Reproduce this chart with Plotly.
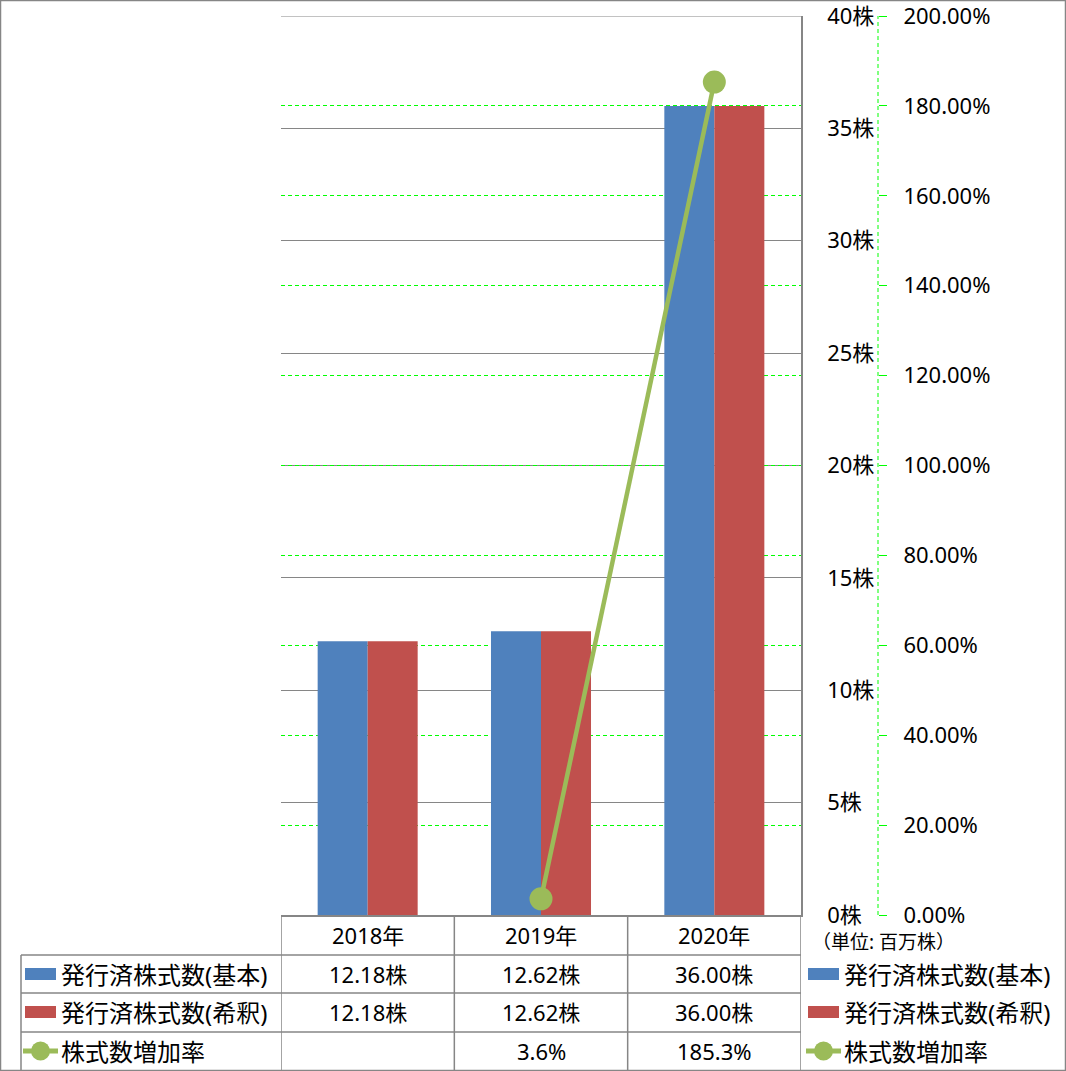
import plotly.graph_objects as go

# ---- data ----
years = ["2018年", "2019年", "2020年"]
basic_shares = [12.18, 12.62, 36.00]
diluted_shares = [12.18, 12.62, 36.00]
growth_rate = [None, 3.6, 185.3]
series_names = ["発行済株式数(基本)", "発行済株式数(希釈)", "株式数増加率"]
unit_note = "（単位: 百万株）"
share_ticks = [0, 5, 10, 15, 20, 25, 30, 35, 40]
rate_ticks = [0, 20, 40, 60, 80, 100, 120, 140, 160, 180, 200]

BLUE = "#4F81BD"
RED = "#C0504D"
GREEN = "#9BBB59"
GRID = "#868686"
LIME = "#00FF00"
FONT = "Noto Sans, Noto Sans CJK JP"

W, H = 1066, 1071


def px(x):
    return x / W


def py(y):
    return 1 - y / H


fig = go.Figure()
fig.add_trace(go.Bar(x=years, y=basic_shares, name=series_names[0],
                     marker=dict(color=BLUE, line=dict(width=0))))
fig.add_trace(go.Bar(x=years, y=diluted_shares, name=series_names[1],
                     marker=dict(color=RED, line=dict(width=0))))
fig.add_trace(go.Scatter(x=years, y=growth_rate, name=series_names[2], yaxis="y2",
                         mode="lines+markers", line=dict(color=GREEN, width=4.5),
                         marker=dict(size=23, color=GREEN), connectgaps=False))

shapes = []
annotations = []

# outer border
shapes.append(dict(type="rect", xref="paper", yref="paper", x0=px(0.5), x1=px(W - 0.5),
                   y0=py(0.5), y1=py(H - 0.5), line=dict(color=GRID, width=1.5)))

# secondary axis dashed line
shapes.append(dict(type="line", xref="paper", yref="y2", x0=px(878), x1=px(878),
                   y0=rate_ticks[0], y1=rate_ticks[-1], line=dict(color=LIME, width=1, dash="4px,3px")))

# top primary gridline (kept explicit so it is always drawn)
shapes.append(dict(type="line", xref="x domain", yref="y", x0=0, x1=1,
                   y0=share_ticks[-1], y1=share_ticks[-1], line=dict(color=GRID, width=1), layer="below"))

# table structure
row_lines = [955, 993, 1032]
for yy in row_lines:
    shapes.append(dict(type="line", xref="paper", yref="paper", x0=px(21), x1=px(801),
                       y0=py(yy), y1=py(yy), line=dict(color=GRID, width=1.5)))
for i in range(len(years) + 1):
    shapes.append(dict(type="line", xref="x", yref="paper", x0=i - 0.5, x1=i - 0.5,
                       y0=py(915), y1=py(1070), line=dict(color=GRID, width=1.5)))
shapes.append(dict(type="line", xref="paper", yref="paper", x0=px(21), x1=px(21),
                   y0=py(955), y1=py(1070), line=dict(color=GRID, width=1.5)))

row_centers = [974, 1012, 1051]

# header row
for yr in years:
    annotations.append(dict(text=yr, x=yr, xref="x", y=py(935), yref="paper",
                            xanchor="center", yanchor="middle",
                            showarrow=False, font=dict(size=22, color="black", family=FONT)))

# value rows
table_rows = [
    [f"{v:.2f}株" for v in basic_shares],
    [f"{v:.2f}株" for v in diluted_shares],
    ["" if v is None else f"{v:.1f}%" for v in growth_rate],
]
for r, vals in enumerate(table_rows):
    for yr, t in zip(years, vals):
        if t:
            annotations.append(dict(text=t, x=yr, xref="x", y=py(row_centers[r]), yref="paper",
                                    xanchor="center", yanchor="middle", showarrow=False,
                                    font=dict(size=22, color="black", family=FONT)))


def legend_key(x_left, yc, kind, text_x):
    if kind in (0, 1):
        col = BLUE if kind == 0 else RED
        shapes.append(dict(type="rect", xref="paper", yref="paper", x0=px(x_left), x1=px(x_left + 31),
                           y0=py(yc - 6), y1=py(yc + 6), fillcolor=col, line=dict(width=0)))
    else:
        shapes.append(dict(type="line", xref="paper", yref="paper", x0=px(x_left - 2), x1=px(x_left + 33),
                           y0=py(yc), y1=py(yc), line=dict(color=GREEN, width=5)))
        shapes.append(dict(type="circle", xref="paper", yref="paper", x0=px(x_left + 6), x1=px(x_left + 25),
                           y0=py(yc - 9.5), y1=py(yc + 9.5), fillcolor=GREEN, line=dict(width=0)))
    annotations.append(dict(text=series_names[kind], x=px(text_x), xref="paper", y=py(yc), yref="paper",
                            xanchor="left", yanchor="middle", showarrow=False,
                            font=dict(size=24, color="black", family=FONT)))


for k in range(3):
    legend_key(25, row_centers[k], k, 59)
    legend_key(808, row_centers[k], k, 842)

annotations.append(dict(text=unit_note, x=px(810), xref="paper", y=py(942), yref="paper",
                        xanchor="left", yanchor="middle", showarrow=False,
                        font=dict(size=19, color="black", family=FONT)))

fig.update_layout(
    width=W, height=H, autosize=False,
    margin=dict(l=0, r=0, t=0, b=0, pad=0, autoexpand=False),
    paper_bgcolor="white", plot_bgcolor="white",
    barmode="group", bargap=0.423, bargroupgap=0,
    showlegend=False,
    font=dict(family=FONT, color="black", size=22),
    xaxis=dict(domain=[px(281), px(801)], type="category", categoryorder="array",
               categoryarray=years, showticklabels=False, ticks="",
               showline=True, linecolor=GRID, linewidth=1.5, showgrid=False,
               range=[-0.5, 2.5], fixedrange=True, automargin=False),
    yaxis=dict(domain=[py(915), py(16)], range=[share_ticks[0], share_ticks[-1]],
               tickmode="array", tickvals=share_ticks,
               ticktext=[f"{v}株" for v in share_ticks],
               side="right", showgrid=True, gridcolor=GRID, gridwidth=1,
               showline=True, linecolor=GRID, linewidth=1.5, ticks="",
               ticklabelstandoff=20, zeroline=False, automargin=False,
               ticklabeloverflow="allow",
               tickfont=dict(size=22, color="black", family=FONT)),
    yaxis2=dict(overlaying="y", anchor="free", position=px(878), side="right",
                range=[rate_ticks[0], rate_ticks[-1]],
                tickmode="array", tickvals=rate_ticks,
                ticktext=[f"{v:.2f}%" for v in rate_ticks],
                showgrid=True, gridcolor=LIME, gridwidth=1, griddash="4px,3px",
                showline=False, ticks="outside", ticklen=8, tickcolor=LIME, tickwidth=1,
                ticklabelstandoff=12, zeroline=False, automargin=False,
                ticklabeloverflow="allow",
                tickfont=dict(size=22, color="black", family=FONT)),
    shapes=shapes,
    annotations=annotations,
)

fig.write_html("out.html", config={"responsive": False, "displayModeBar": False})
